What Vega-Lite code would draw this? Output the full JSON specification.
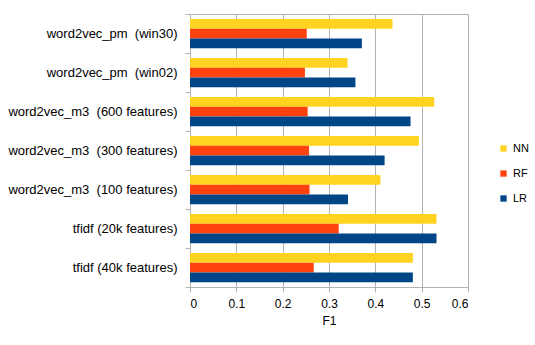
{
  "$schema": "https://vega.github.io/schema/vega-lite/v6.json",
  "width": 278,
  "height": 273,
  "autosize": {"type": "none"},
  "padding": {"left": 190, "top": 14, "right": 67, "bottom": 58},
  "background": "white",
  "config": {
    "font": "Liberation Sans",
    "view": {"stroke": "#b3b3b3", "strokeWidth": 1},
    "axis": {"labelColor": "#000000", "titleColor": "#000000", "labelFont": "Liberation Sans", "titleFont": "Liberation Sans"}
  },
  "data": {
    "values": [
      {"method": "word2vec_pm \u00a0(win30)", "model": "NN", "f1": 0.437},
      {"method": "word2vec_pm \u00a0(win30)", "model": "RF", "f1": 0.252},
      {"method": "word2vec_pm \u00a0(win30)", "model": "LR", "f1": 0.371},
      {"method": "word2vec_pm \u00a0(win02)", "model": "NN", "f1": 0.340},
      {"method": "word2vec_pm \u00a0(win02)", "model": "RF", "f1": 0.248},
      {"method": "word2vec_pm \u00a0(win02)", "model": "LR", "f1": 0.357},
      {"method": "word2vec_m3 \u00a0(600 features)", "model": "NN", "f1": 0.527},
      {"method": "word2vec_m3 \u00a0(600 features)", "model": "RF", "f1": 0.254},
      {"method": "word2vec_m3 \u00a0(600 features)", "model": "LR", "f1": 0.476},
      {"method": "word2vec_m3 \u00a0(300 features)", "model": "NN", "f1": 0.494},
      {"method": "word2vec_m3 \u00a0(300 features)", "model": "RF", "f1": 0.257},
      {"method": "word2vec_m3 \u00a0(300 features)", "model": "LR", "f1": 0.420},
      {"method": "word2vec_m3 \u00a0(100 features)", "model": "NN", "f1": 0.411},
      {"method": "word2vec_m3 \u00a0(100 features)", "model": "RF", "f1": 0.258},
      {"method": "word2vec_m3 \u00a0(100 features)", "model": "LR", "f1": 0.341},
      {"method": "tfidf (20k features)", "model": "NN", "f1": 0.532},
      {"method": "tfidf (20k features)", "model": "RF", "f1": 0.321},
      {"method": "tfidf (20k features)", "model": "LR", "f1": 0.532},
      {"method": "tfidf (40k features)", "model": "NN", "f1": 0.481},
      {"method": "tfidf (40k features)", "model": "RF", "f1": 0.267},
      {"method": "tfidf (40k features)", "model": "LR", "f1": 0.481}
    ]
  },
  "mark": {"type": "bar"},
  "encoding": {
    "y": {
      "field": "method",
      "type": "nominal",
      "sort": null,
      "scale": {"paddingInner": 0, "paddingOuter": 0},
      "axis": {
        "title": null,
        "domain": false,
        "tickBand": "extent",
        "tickColor": "#b3b3b3",
        "tickSize": 5,
        "labelFontSize": 13,
        "labelPadding": 8,
        "grid": false
      }
    },
    "yOffset": {
      "field": "model",
      "type": "nominal",
      "sort": ["NN", "RF", "LR"],
      "scale": {"paddingInner": 0, "paddingOuter": 0.5}
    },
    "x": {
      "field": "f1",
      "type": "quantitative",
      "scale": {"domain": [0, 0.6], "nice": false},
      "axis": {
        "title": "F1",
        "titleFontSize": 12,
        "titleFontWeight": "normal",
        "titlePadding": 6,
        "values": [0, 0.1, 0.2, 0.3, 0.4, 0.5, 0.6],
        "format": "~g",
        "labelFontSize": 12,
        "labelPadding": 6,
        "domainColor": "#b3b3b3",
        "tickColor": "#b3b3b3",
        "tickSize": 5,
        "gridColor": "#b3b3b3",
        "gridOpacity": 1,
        "grid": true
      }
    },
    "color": {
      "field": "model",
      "type": "nominal",
      "scale": {"domain": ["NN", "RF", "LR"], "range": ["#ffd320", "#ff420e", "#004586"]},
      "legend": {
        "title": null,
        "orient": "none",
        "legendX": 308,
        "legendY": 129,
        "padding": 0,
        "symbolType": "square",
        "symbolSize": 40,
        "symbolStrokeWidth": 0,
        "symbolOpacity": 1,
        "labelFontSize": 11,
        "labelColor": "#000000",
        "labelOffset": 4,
        "rowPadding": 13
      }
    }
  }
}
